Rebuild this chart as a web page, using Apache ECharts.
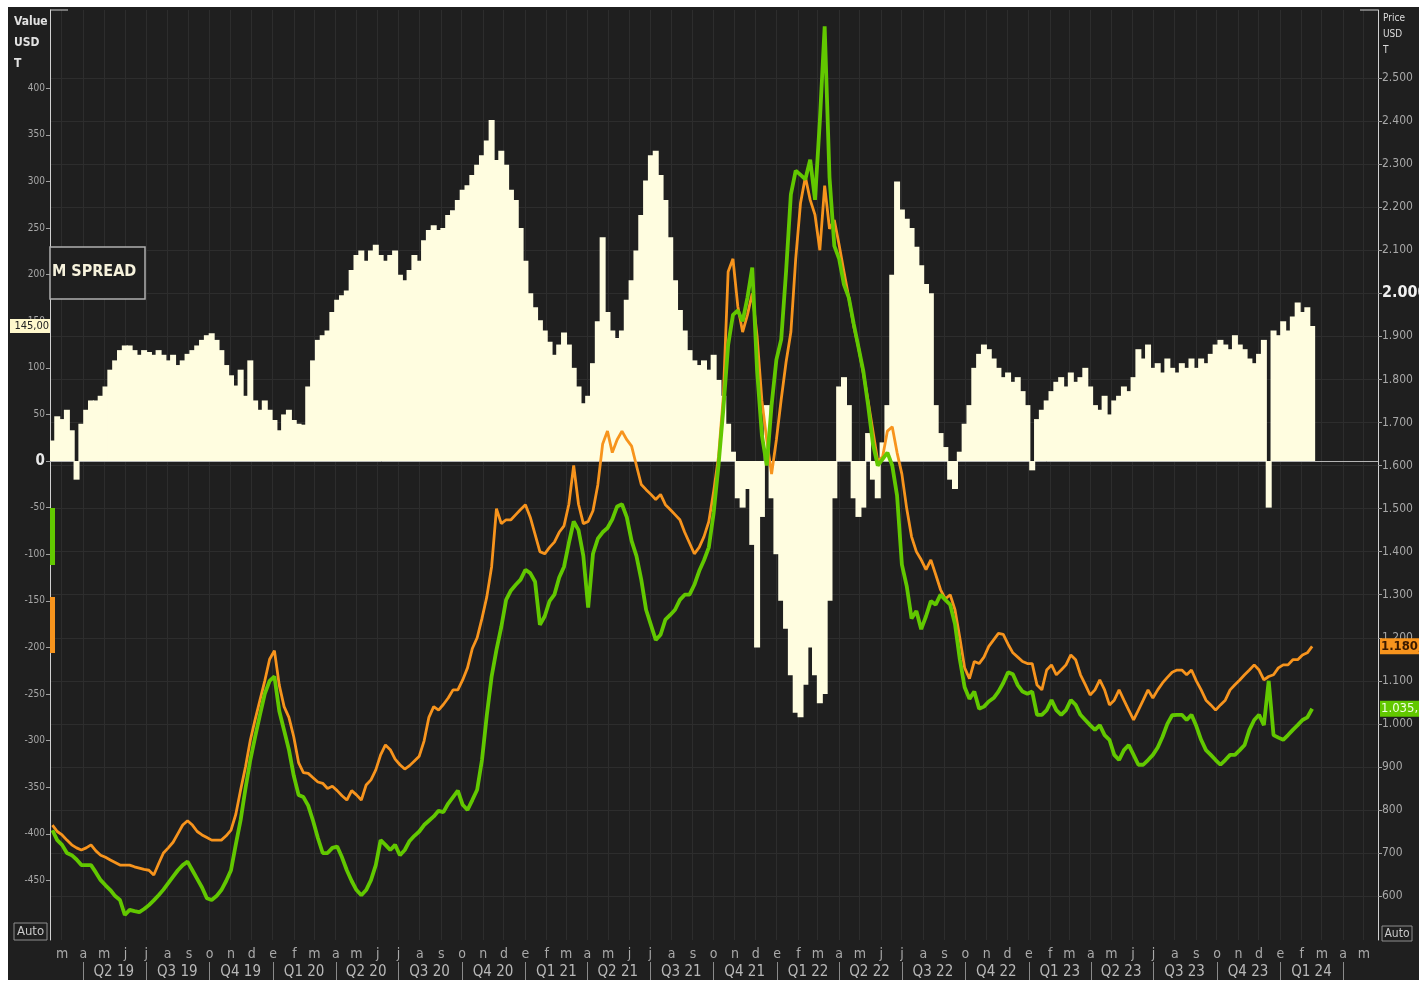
<!DOCTYPE html>
<html>
<head>
<meta charset="utf-8">
<script src="https://cdn.jsdelivr.net/npm/echarts@6/dist/echarts.min.js"></script>
<style>
  html, body { margin: 0; padding: 0; background: #ffffff; }
  #chart { position: absolute; left: 8px; top: 7px; width: 1411px; height: 973px; }
</style>
</head>
<body>
<div id="chart"></div>
<script>
// weekly points (Fridays) from 2019-02-15, one row per month
const firstWeek = '2019-02-15';

const spread = [
  22, 48,
  45, 55, 33, -20, 40,
  55, 65, 65, 70,
  80, 98, 108, 119, 124,
  124, 119, 114, 119,
  117, 114, 119, 114,
  108, 114, 103, 108, 115,
  119, 124, 130, 135,
  137, 130, 119, 103,
  92, 81, 98, 70, 108,
  65, 55, 65, 55,
  // 2020
  44, 33, 50, 55, 44,
  40, 39, 80, 108,
  130, 135, 140, 160,
  173, 178, 183, 205,
  221, 226, 215, 226, 232,
  221, 215, 221, 226,
  200, 194, 205, 221, 215,
  237, 248, 253, 248,
  250, 264, 269, 280,
  291, 296, 307, 318, 328,
  344, 366, 323, 333,
  318, 291, 280, 250,
  // 2021
  215, 180, 165, 151, 140,
  128, 114, 125, 138,
  125, 100, 80, 62,
  70, 105, 150, 240, 160,
  140, 132, 140, 173,
  194, 226, 264, 301,
  328, 333, 307, 280, 240,
  194, 162, 140, 119,
  108, 103, 108, 98,
  114, 87, 70, 40, 10,
  -40, -50, -30, -90,
  -200, -60, 60, -40, -100,
  // 2022
  -150, -180, -230, -270,
  -275, -240, -200, -230,
  -260, -250, -150, -40,
  80, 90, 60, -40, -60,
  -50, 30, -20, -40,
  20, 60, 200, 300,
  270, 260, 250, 230, 210,
  190, 180, 60, 30,
  15, -20, -30, 10, 40,
  60, 100, 115, 125,
  120, 110, 100, 90,
  95, 85, 90, 75, 60,
  // 2023
  -10, 45, 55, 65,
  75, 85, 90, 80,
  95, 85, 90, 100, 80,
  60, 55, 70, 50,
  65, 70, 80, 75,
  90, 120, 110, 125, 100,
  105, 95, 110, 100,
  95, 105, 100, 110,
  100, 110, 105, 115, 125,
  130, 125, 120, 135,
  125, 120, 110, 105,
  115, 130, -50, 140, 135,
  // 2024
  150, 140, 155, 170,
  160, 165, 145
];

const priceOrange = [
  765, 750,
  742, 730, 719, 712, 707,
  712, 719, 705, 695,
  690, 684, 678, 672, 672,
  672, 668, 665, 662,
  660, 649, 675, 700,
  712, 725, 745, 765, 775,
  765, 750, 742, 736,
  730, 730, 730, 740,
  753, 790, 847, 900, 962,
  1010, 1055, 1100, 1150,
  // 2020
  1170, 1090, 1040, 1015, 970,
  910, 887, 885, 875,
  865, 862, 850, 855,
  845, 833, 823, 845,
  835, 823, 858, 870, 893,
  928, 951, 940, 918,
  905, 895, 903, 914, 925,
  960, 1015, 1040, 1032,
  1045, 1060, 1079, 1079,
  1102, 1130, 1175, 1200, 1245,
  1295, 1365, 1500, 1465,
  1474, 1474, 1486, 1498,
  // 2021
  1509, 1480, 1440, 1400, 1395,
  1410, 1422, 1445, 1460,
  1510, 1600, 1510, 1465,
  1470, 1495, 1555, 1650, 1680,
  1630, 1660, 1680, 1660,
  1645, 1600, 1556, 1544,
  1533, 1521, 1533, 1509, 1498,
  1486, 1474, 1445, 1420,
  1395, 1410, 1435, 1470,
  1540, 1620, 1760, 2050, 2080,
  1970, 1910, 1950, 2000,
  1900, 1750, 1660, 1580, 1660,
  // 2022
  1754, 1840, 1910, 2080,
  2210, 2270, 2217, 2182,
  2100, 2250, 2150, 2170,
  2112, 2050, 1990, 1925, 1875,
  1815, 1750, 1680, 1610,
  1620, 1680, 1690, 1630,
  1580, 1500, 1435, 1400, 1381,
  1358, 1381, 1347, 1312,
  1290, 1300, 1265, 1200, 1130,
  1105, 1145, 1140, 1155,
  1180, 1195, 1210, 1208,
  1185, 1165, 1155, 1145, 1140,
  // 2023
  1140, 1090, 1079, 1125,
  1137, 1114, 1125, 1137,
  1160, 1149, 1114, 1091, 1067,
  1079, 1102, 1079, 1044,
  1055, 1079, 1055, 1032,
  1009, 1032, 1055, 1079, 1060,
  1079, 1095, 1108, 1120,
  1125, 1125, 1114, 1125,
  1100, 1079, 1055, 1044, 1032,
  1044, 1055, 1079, 1091,
  1102, 1114, 1125, 1137,
  1125, 1102, 1110, 1114, 1130,
  // 2024
  1137, 1137, 1149, 1149,
  1160, 1165, 1180
];

const priceGreen = [
  753, 730,
  719, 700, 695, 685, 672,
  672, 672, 655, 637,
  625, 614, 600, 591, 556,
  568, 565, 563, 570,
  579, 590, 602, 615,
  630, 645, 660, 672, 680,
  660, 640, 620, 595,
  591, 600, 614, 635,
  660, 720, 777, 850, 916,
  970, 1021, 1070, 1100,
  // 2020
  1110, 1030, 985, 940, 880,
  835, 830, 810, 775,
  735, 700, 700, 712,
  715, 690, 660, 635,
  614, 602, 614, 637, 672,
  730, 719, 707, 719,
  695, 707, 728, 740, 750,
  765, 775, 785, 798,
  795, 815, 830, 845,
  812, 800, 823, 847, 916,
  1020, 1110, 1172, 1225,
  1288, 1310, 1323, 1335,
  // 2021
  1358, 1350, 1330, 1230, 1250,
  1285, 1300, 1340, 1365,
  1420, 1470, 1450, 1390,
  1270, 1395, 1430, 1445, 1455,
  1475, 1505, 1510, 1480,
  1425, 1390, 1335, 1265,
  1230, 1195, 1207, 1242, 1253,
  1265, 1288, 1300, 1300,
  1323, 1355, 1380, 1410,
  1490, 1600, 1730, 1880, 1950,
  1960, 1935, 1990, 2060,
  1820, 1670, 1600, 1740, 1846,
  // 2022
  1893, 2050, 2230, 2285,
  2275, 2265, 2310, 2217,
  2400, 2620, 2270, 2110,
  2080, 2020, 1990, 1930, 1875,
  1820, 1740, 1650, 1600,
  1615, 1630, 1600, 1530,
  1370, 1320, 1245, 1262, 1220,
  1250, 1285, 1277, 1300,
  1288, 1277, 1232, 1150, 1085,
  1058, 1075, 1035, 1040,
  1052, 1060, 1075, 1095,
  1120, 1115, 1090, 1075, 1070,
  // 2023
  1075, 1021, 1021, 1032,
  1055, 1032, 1021, 1032,
  1055, 1044, 1021, 1009, 997,
  986, 997, 974, 963,
  928, 916, 939, 951,
  928, 905, 905, 916, 928,
  945, 970, 1000, 1020,
  1021, 1021, 1009, 1021,
  995, 963, 939, 928, 916,
  905, 916, 928, 928,
  939, 951, 986, 1009,
  1021, 997, 1100, 974, 968,
  // 2024
  963, 974, 986, 997,
  1009, 1015, 1035
];

const monthLetters = ['e', 'f', 'm', 'a', 'm', 'j', 'j', 'a', 's', 'o', 'n', 'd'];
const leftTicks = [-450, -400, -350, -300, -250, -200, -150, -100, -50, 0, 50, 100, 150, 200, 250, 300, 350, 400];
const rightTicks = [600, 700, 800, 900, 1000, 1100, 1200, 1300, 1400, 1500, 1600, 1700, 1800, 1900, 2000, 2100, 2200, 2300, 2400, 2500];

// daily categories for the time line
const DAY = 86400000;
const axisStart = Date.UTC(2019, 1, 12);
const axisEnd = Date.UTC(2024, 4, 21);
const days = [];
for (let t = axisStart; t <= axisEnd; t += DAY) {
  days.push(new Date(t).toISOString().slice(0, 10));
}
const [fy, fm, fd] = firstWeek.split('-').map(Number);
const firstIdx = (Date.UTC(fy, fm - 1, fd) - axisStart) / DAY;
const toPairs = arr => arr.map((v, i) => [firstIdx + 7 * i, v]);

const font = "'DejaVu Sans Condensed', 'Liberation Sans Narrow', 'DejaVu Sans', sans-serif";
const fmtNum = v => String(v).replace(/\B(?=(\d{3})+(?!\d))/g, '.');

const isMonthStart = (i, v) => v.slice(8) === '01';
const isQuarterStart = (i, v) => {
  if (v.slice(8) !== '01') return false;
  const m = +v.slice(5, 7);
  if ((m - 1) % 3 !== 0) return false;
  return v >= '2019-04-01' && v <= '2024-04-01';
};
const isQuarterMid = (i, v) => {
  if (v.slice(8) !== '15') return false;
  const m = +v.slice(5, 7);
  if ((m - 2) % 3 !== 0) return false;
  return v >= '2019-05-01' && v <= '2024-03-01';
};
const quarterName = v => 'Q' + Math.ceil(+v.slice(5, 7) / 3) + ' ' + v.slice(2, 4);

const lastSpread = spread[spread.length - 1];
const lastOrange = priceOrange[priceOrange.length - 1];
const lastGreen = priceGreen[priceGreen.length - 1];

const chart = echarts.init(document.getElementById('chart'));

const option = {
  backgroundColor: '#1f1f1f',
  animation: false,
  textStyle: { fontFamily: font },
  grid: { left: 42, right: 41, top: 3, bottom: 40, outerBoundsMode: 'none' },
  xAxis: [
    {
      type: 'category',
      data: days,
      axisLine: { lineStyle: { color: '#b5b5b5' } },
      axisTick: { interval: isMonthStart, alignWithLabel: true, length: 5, lineStyle: { color: '#9a9a9a' } },
      axisLabel: {
        interval: isMonthStart,
        formatter: v => monthLetters[+v.slice(5, 7) - 1],
        color: '#a9a9a9', fontSize: 14, margin: 7, fontFamily: font
      },
      splitLine: { show: true, interval: isMonthStart, lineStyle: { color: '#2d2d2d' } }
    },
    {
      type: 'category',
      data: days,
      position: 'bottom',
      offset: 22,
      axisLine: { show: false },
      axisTick: { show: true, interval: isQuarterStart, alignWithLabel: true, length: 18, lineStyle: { color: '#8a8a8a' } },
      axisLabel: {
        interval: isQuarterMid, formatter: quarterName,
        color: '#b8b8b8', fontSize: 15, margin: 3, fontFamily: font
      },
      splitLine: { show: false }
    }
  ],
  yAxis: [
    {
      type: 'value',
      position: 'left',
      min: -514,
      max: 484,
      axisLine: { show: true, lineStyle: { color: '#d0d0d0' } },
      axisTick: { show: true, customValues: leftTicks, length: 4, lineStyle: { color: '#a0a0a0' } },
      axisLabel: {
        customValues: leftTicks,
        formatter: v => v === 0 ? '{z|0}' : String(v),
        color: '#a8a8a8', fontSize: 10, margin: 5, fontFamily: font,
        rich: { z: { fontSize: 15, fontWeight: 'bold', color: '#e8e8e8', fontFamily: font } }
      },
      splitLine: { show: false }
    },
    {
      type: 'value',
      position: 'right',
      min: 498,
      max: 2658,
      axisLine: { show: true, lineStyle: { color: '#d0d0d0' } },
      axisTick: { show: true, customValues: rightTicks, length: 4, lineStyle: { color: '#a0a0a0' } },
      axisLabel: {
        customValues: rightTicks,
        formatter: v => v === 2000 ? '{b|2.000}' : fmtNum(v),
        color: '#a8a8a8', fontSize: 12, margin: 4, fontFamily: font,
        rich: { b: { fontSize: 16, fontWeight: 'bold', color: '#f0f0f0', fontFamily: font } }
      },
      splitLine: { show: true, lineStyle: { color: '#2d2d2d' } }
    }
  ],
  series: [
    {
      name: 'M SPREAD',
      type: 'bar',
      xAxisIndex: 0,
      yAxisIndex: 0,
      data: toPairs(spread),
      barWidth: 6,
      itemStyle: { color: '#fffde0' }
    },
    {
      name: 'orange',
      type: 'line',
      xAxisIndex: 0,
      yAxisIndex: 1,
      data: toPairs(priceOrange),
      symbol: 'none',
      lineStyle: { color: '#f7941d', width: 2.8 },
      itemStyle: { color: '#f7941d' },
      z: 3
    },
    {
      name: 'green',
      type: 'line',
      xAxisIndex: 0,
      yAxisIndex: 1,
      data: toPairs(priceGreen),
      symbol: 'none',
      lineStyle: { color: '#62c800', width: 3.8 },
      itemStyle: { color: '#62c800' },
      z: 4
    }
  ],
  graphic: [
    {
      id: 'lname', type: 'text', left: 6, top: 4, z: 10,
      style: { text: 'Value\nUSD\nT', fill: '#e2e2e2', font: 'bold 12px ' + font, lineHeight: 21, align: 'right', x: 33 }
    },
    {
      id: 'rname', type: 'text', left: 1375, top: 3, z: 10,
      style: { text: 'Price\nUSD\nT', fill: '#dcdcdc', font: '10px ' + font, lineHeight: 16 }
    },
    {
      id: 'boxRect', type: 'rect', z: 10,
      shape: { x: 42, y: 240, width: 95, height: 52 },
      style: { fill: '#1f1f1f', stroke: '#b0b0b0', lineWidth: 1.5 }
    },
    {
      id: 'boxText', type: 'text', z: 11, x: 44, y: 265,
      style: { text: 'M SPREAD', fill: '#f6f2dc', font: 'bold 16px ' + font, verticalAlign: 'middle' }
    },
    {
      id: 'gMark', type: 'rect', z: 10,
      shape: { x: 42, y: 501, width: 5, height: 57 },
      style: { fill: '#62c800' }
    },
    {
      id: 'oMark', type: 'rect', z: 10,
      shape: { x: 42, y: 590, width: 5, height: 56 },
      style: { fill: '#f7941d' }
    },
    {
      id: 'capL', type: 'line', z: 10,
      shape: { x1: 42, y1: 3, x2: 60, y2: 3 },
      style: { stroke: '#d0d0d0', lineWidth: 1 }
    },
    {
      id: 'capR', type: 'line', z: 10,
      shape: { x1: 1352, y1: 3, x2: 1370, y2: 3 },
      style: { stroke: '#d0d0d0', lineWidth: 1 }
    },
    {
      id: 'autoLRect', type: 'rect', z: 10,
      shape: { x: 6, y: 916, width: 33, height: 17 },
      style: { fill: 'transparent', stroke: '#8f8f8f', lineWidth: 1 }
    },
    {
      id: 'autoLText', type: 'text', z: 11, x: 22.5, y: 925,
      style: { text: 'Auto', fill: '#c8c8c8', font: '13px ' + font, align: 'center', verticalAlign: 'middle' }
    },
    {
      id: 'autoRRect', type: 'rect', z: 10,
      shape: { x: 1374, y: 919, width: 30, height: 15 },
      style: { fill: 'transparent', stroke: '#8f8f8f', lineWidth: 1 }
    },
    {
      id: 'autoRText', type: 'text', z: 11, x: 1389, y: 927,
      style: { text: 'Auto', fill: '#c8c8c8', font: '12px ' + font, align: 'center', verticalAlign: 'middle' }
    }
  ]
};

chart.setOption(option);

// last-value tags placed through the axes' own scales
const ySpread = chart.convertToPixel({ yAxisIndex: 0 }, lastSpread);
const yOrange = chart.convertToPixel({ yAxisIndex: 1 }, lastOrange);
const yGreen = chart.convertToPixel({ yAxisIndex: 1 }, lastGreen);

chart.setOption({
  graphic: [
    {
      id: 'tagS', type: 'rect', z: 12,
      shape: { x: 2, y: ySpread - 7, width: 40, height: 14 },
      style: { fill: '#fff8cc' }
    },
    {
      id: 'tagSText', type: 'text', z: 13, x: 41, y: ySpread,
      style: { text: lastSpread.toFixed(2).replace('.', ','), fill: '#222', font: '11px ' + font, align: 'right', verticalAlign: 'middle' }
    },
    {
      id: 'tagO', type: 'rect', z: 12,
      shape: { x: 1372, y: yOrange - 8, width: 50, height: 16 },
      style: { fill: '#f7941d' }
    },
    {
      id: 'tagOText', type: 'text', z: 13, x: 1373, y: yOrange,
      style: { text: fmtNum(lastOrange) + ',00', fill: '#3a1a00', font: 'bold 13px ' + font, verticalAlign: 'middle' }
    },
    {
      id: 'tagG', type: 'rect', z: 12,
      shape: { x: 1372, y: yGreen - 8, width: 50, height: 16 },
      style: { fill: '#62c800' }
    },
    {
      id: 'tagGText', type: 'text', z: 13, x: 1373, y: yGreen,
      style: { text: fmtNum(lastGreen) + ',00', fill: '#f0ffe0', font: '13px ' + font, verticalAlign: 'middle' }
    }
  ]
});
</script>
</body>
</html>
